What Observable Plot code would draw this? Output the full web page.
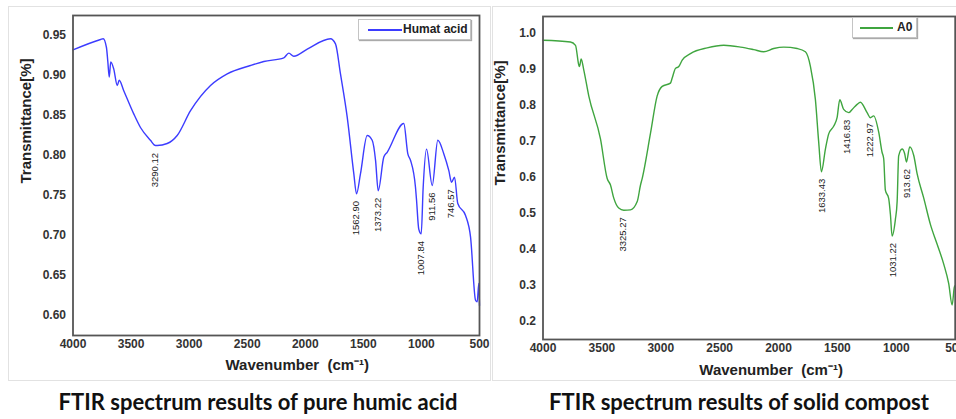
<!DOCTYPE html>
<html>
<head>
<meta charset="utf-8">
<script src="https://cdn.jsdelivr.net/npm/d3@7"></script>
<script src="https://cdn.jsdelivr.net/npm/@observablehq/plot@0.6"></script>
<style>
  body { margin:0; background:#fff; width:956px; height:419px; position:relative; overflow:hidden; font-family:'Liberation Sans', Arial, sans-serif; }
  .box { position:absolute; border:1px solid #e2e2e2; box-sizing:border-box; }
  .cap { position:absolute; top:388px; font-family:Lato, 'Open Sans', sans-serif; font-weight:700; font-size:22px; line-height:28px; text-align:center; color:#111; white-space:nowrap; }
  .leg { position:absolute; border:1px solid #c4c4c4; box-shadow:1px 1px 1px #aaa; background:#fff; box-sizing:border-box; }
  .legline { position:absolute; height:0; border-top:2px solid; }
  .legtext { position:absolute; font-weight:bold; font-size:12px; color:#222; line-height:14px; }
  .plot { position:absolute; top:0; }
</style>
</head>
<body>
<div class="box" style="left:8px;top:6px;width:483px;height:375px"></div>
<div class="box" style="left:492px;top:6px;width:470px;height:375px"></div>
<div id="p1" class="plot" style="left:0px"></div>
<div id="p2" class="plot" style="left:490px"></div>

<div class="leg" style="left:358px;top:19px;width:113px;height:21px"></div>
<div class="legline" style="left:368px;top:29px;width:34px;border-color:#3c3cff"></div>
<div class="legtext" style="left:403px;top:22px">Humat acid</div>

<div class="leg" style="left:852px;top:17px;width:65px;height:21px"></div>
<div class="legline" style="left:860px;top:27px;width:33px;border-color:#3fa53f"></div>
<div class="legtext" style="left:897px;top:20px">A0</div>

<div class="cap" style="left:58px;width:400px">FTIR spectrum results of pure humic acid</div>
<div class="cap" style="left:539px;width:400px">FTIR spectrum results of solid compost</div>

<script>
// ---------- Data: pure humic acid ----------
const humicWn = [4000,3763,3740,3712,3700,3688,3675,3649,3619,3602,3563,3477,3419,3333,3290,3275,3189,3103,2988,2816,2672,2472,2357,2185,2142,2099,1983,1783,1740,1697,1639,1582,1559,1525,1467,1424,1395,1372,1324,1295,1152,1117,1094,1051,1042,1023,1002,985,956,907,859,807,764,741,715,687,620,577,534,520,506,500];
const humicT  = [0.932,0.945,0.946,0.935,0.917,0.898,0.917,0.908,0.8875,0.894,0.881,0.852,0.835,0.819,0.8125,0.8125,0.815,0.825,0.856,0.8875,0.902,0.9125,0.9175,0.922,0.928,0.924,0.933,0.946,0.9396,0.902,0.848,0.777,0.752,0.777,0.825,0.819,0.794,0.756,0.798,0.804,0.840,0.802,0.794,0.760,0.744,0.708,0.702,0.76,0.808,0.7625,0.819,0.802,0.781,0.7666,0.773,0.740,0.725,0.698,0.619,0.617,0.640,0.6125];
const humicPeakWn    = [3290.12,1562.90,1373.22,1007.84,911.56,746.57];
const humicPeakT     = [0.812,0.752,0.756,0.702,0.7625,0.7666];
const humicPeakLabel = ["3290.12","1562.90","1373.22","1007.84","911.56","746.57"];
const humicYTicks = [0.60,0.65,0.70,0.75,0.80,0.85,0.90,0.95];

// ---------- Data: solid compost (A0) ----------
const compostWn = [4000,3767,3724,3696,3690,3676,3654,3611,3512,3455,3427,3399,3357,3314,3257,3200,3172,3158,3086,3031,2988,2918,2903,2875,2847,2818,2748,2606,2465,2323,2211,2126,2041,1956,1842,1772,1729,1687,1659,1636,1602,1574,1531,1503,1480,1447,1404,1375,1333,1305,1248,1220,1192,1149,1121,1107,1093,1065,1050,1036,1008,993,980,951,929,914,886,852,823,767,710,654,598,555,526,507,500];
const compostT  = [0.981,0.976,0.967,0.912,0.908,0.929,0.899,0.826,0.707,0.597,0.579,0.5425,0.515,0.509,0.510,0.533,0.579,0.597,0.725,0.826,0.853,0.862,0.876,0.903,0.908,0.926,0.944,0.960,0.967,0.962,0.955,0.949,0.958,0.962,0.958,0.949,0.908,0.816,0.698,0.616,0.679,0.721,0.743,0.766,0.816,0.789,0.780,0.789,0.803,0.809,0.780,0.766,0.771,0.725,0.670,0.652,0.565,0.542,0.497,0.4375,0.483,0.533,0.66,0.679,0.666,0.643,0.685,0.661,0.61,0.5425,0.469,0.415,0.36,0.305,0.246,0.296,0.30];
const compostPeakWn    = [3325.27,1633.43,1416.83,1222.97,1031.22,913.62];
const compostPeakT     = [0.509,0.616,0.780,0.771,0.4375,0.643];
const compostPeakLabel = ["3325.27","1633.43","1416.83","1222.97","1031.22","913.62"];
const compostYTicks = [0.2,0.3,0.4,0.5,0.6,0.7,0.8,0.9,1.0];

const xTicks = [4000,3500,3000,2500,2000,1500,1000,500];
const xLabel = "Wavenumber  (cm\u207B\u00B9)";
const yLabel = "Transmittance[%]";

const font = "'Liberation Sans', Arial, sans-serif";

function makePanel({wn, t, pWn, pT, pLab, yTicks, yDomain, yFmt, color, width, mL, mR, mT, mB, yLabDx, yLabDy, xLabDx, xLabDy}) {
  const rows = wn.map((w, i) => ({w, t: t[i]}));
  const peaks = pWn.map((w, i) => ({w, t: pT[i], s: pLab[i]}));
  return Plot.plot({
    width, height: 380,
    marginLeft: mL, marginRight: mR, marginTop: mT, marginBottom: mB,
    style: {fontFamily: font, background: "transparent", overflow: "visible"},
    x: {domain: [4000, 500]},
    y: {domain: yDomain},
    marks: [
      Plot.axisX({ticks: xTicks, tickFormat: d3.format("d"), tickSize: 0, tickPadding: 4, fontWeight: "bold", fontSize: 12, fill: "#333", label: null}),
      Plot.axisY({ticks: yTicks, tickFormat: d3.format(yFmt), tickSize: 0, tickPadding: 7, fontWeight: "bold", fontSize: 12, fill: "#333", label: null}),
      Plot.line(rows, {x: "w", y: "t", stroke: color, strokeWidth: 1.4, curve: "monotone-x"}),
      Plot.text(peaks, {x: "w", y: "t", text: "s", rotate: -90, textAnchor: "end", lineAnchor: "middle", dy: 7, fontSize: 9.5, fill: "#222"}),
      Plot.frame({stroke: "#555", strokeWidth: 1.8}),
      Plot.text([yLabel], {frameAnchor: "left", rotate: -90, dx: yLabDx, dy: yLabDy, fontSize: 15, fontWeight: "bold", fill: "#222"}),
      Plot.text([xLabel], {frameAnchor: "bottom", dx: xLabDx, dy: xLabDy, lineAnchor: "middle", fontSize: 15, fontWeight: "bold", fill: "#222"})
    ]
  });
}

document.getElementById("p1").appendChild(makePanel({
  wn: humicWn, t: humicT, pWn: humicPeakWn, pT: humicPeakT, pLab: humicPeakLabel,
  yTicks: humicYTicks, yDomain: [0.575, 0.975], yFmt: ".2f", color: "#3c3cff",
  width: 490, mL: 72.5, mR: 11, mT: 15, mB: 45, yLabDx: -47, yLabDy: 8, xLabDx: 21, xLabDy: 30
}));

document.getElementById("p2").appendChild(makePanel({
  wn: compostWn, t: compostT, pWn: compostPeakWn, pT: compostPeakT, pLab: compostPeakLabel,
  yTicks: compostYTicks, yDomain: [0.15, 1.047], yFmt: ".1f", color: "#3fa53f",
  width: 466, mL: 52.5, mR: 1.3, mT: 16, mB: 41, yLabDx: -43, yLabDy: 7.5, xLabDx: 22, xLabDy: 31
}));
</script>
</body>
</html>
